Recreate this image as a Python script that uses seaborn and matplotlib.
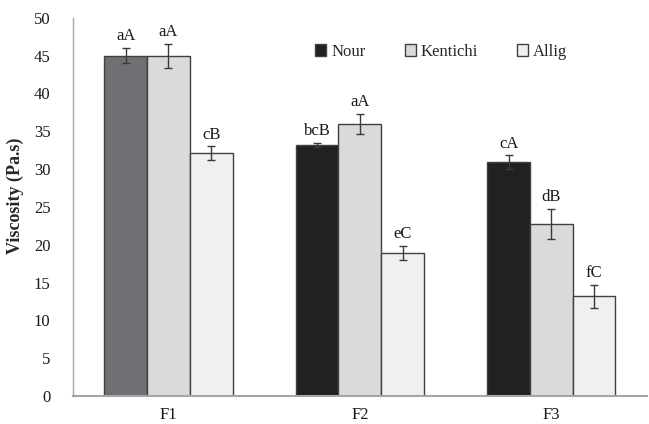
import numpy as np
import pandas as pd
import matplotlib
matplotlib.use("Agg")
import matplotlib.pyplot as plt
import seaborn as sns
from matplotlib.patches import Patch

# === Data ===
formulations = ["F1", "F2", "F3"]
varieties = ["Nour", "Kentichi", "Allig"]
nour = [45.0, 33.2, 30.9]
kentichi = [45.0, 36.0, 22.7]
allig = [32.1, 18.9, 13.2]
nour_err = [1.0, 0.3, 0.9]
kentichi_err = [1.6, 1.3, 2.0]
allig_err = [0.9, 0.95, 1.5]
nour_lbl = ["aA", "bcB", "cA"]
kentichi_lbl = ["aA", "aA", "dB"]
allig_lbl = ["cB", "eC", "fC"]

colors = {"Nour": "#231f20", "Kentichi": "#d9dadc", "Allig": "#eff0f2"}
f1_nour_color = "#6f7073"

df = pd.DataFrame({
    "form": formulations * 3,
    "variety": ["Nour"] * 3 + ["Kentichi"] * 3 + ["Allig"] * 3,
    "visc": nour + kentichi + allig,
    "err": nour_err + kentichi_err + allig_err,
    "lbl": nour_lbl + kentichi_lbl + allig_lbl,
})

sns.set_style("white")
plt.rcParams["font.family"] = ["Liberation Serif", "DejaVu Serif"]
plt.rcParams["font.size"] = 12

fig = plt.figure(figsize=(6.49, 4.24), dpi=100)
ax = fig.add_axes([0.112, 0.066, 0.885, 0.892])

sns.barplot(data=df, x="form", y="visc", hue="variety", order=formulations,
            hue_order=varieties, palette=colors, width=0.67, errorbar=None,
            edgecolor="#404040", linewidth=1.0, legend=False, ax=ax)

# error bars and letter labels
for cont, var in zip(ax.containers, varieties):
    sub = df[df["variety"] == var].set_index("form").loc[formulations]
    for i, bar in enumerate(cont):
        xc = bar.get_x() + bar.get_width() / 2
        h = bar.get_height()
        e = sub["err"].iloc[i]
        ax.errorbar(xc, h, yerr=e, fmt="none", ecolor="#3a3a3a",
                    elinewidth=1.0, capsize=2.8, capthick=1.0)
        ax.text(xc, h + e + 0.5, sub["lbl"].iloc[i], ha="center", va="bottom",
                fontsize=12, color="#1a1a1a")

# F1 Nour bar is drawn in dark grey in the original
ax.containers[0][0].set_facecolor(f1_nour_color)

ax.set_ylim(0, 50)
ax.set_yticks(range(0, 51, 5))
ax.set_xlim(-0.5, 2.5)
ax.set_xlabel("")
ax.set_ylabel("Viscosity (Pa.s)", fontweight="bold", fontsize=13)
ax.yaxis.set_label_coords(-0.084, 0.53)
ax.tick_params(axis="both", length=0, labelsize=12, colors="#1a1a1a")
ax.tick_params(axis="x", pad=8)
ax.tick_params(axis="y", pad=16)
for s in ["top", "right"]:
    ax.spines[s].set_visible(False)
ax.spines["left"].set_color("#a6a6a6")
ax.spines["left"].set_linewidth(1.0)
ax.spines["bottom"].set_color("#a6a6a6")
ax.spines["bottom"].set_linewidth(1.5)

handles = [Patch(facecolor=colors[v], edgecolor="#404040", linewidth=1.0, label=v)
           for v in varieties]
ax.legend(handles=handles, loc="center", bbox_to_anchor=(0.642, 0.91), ncol=3,
          frameon=False, handlelength=0.66, handleheight=0.66, handletextpad=0.3,
          columnspacing=2.35, fontsize=12)

fig.savefig("out.png", dpi=100)
